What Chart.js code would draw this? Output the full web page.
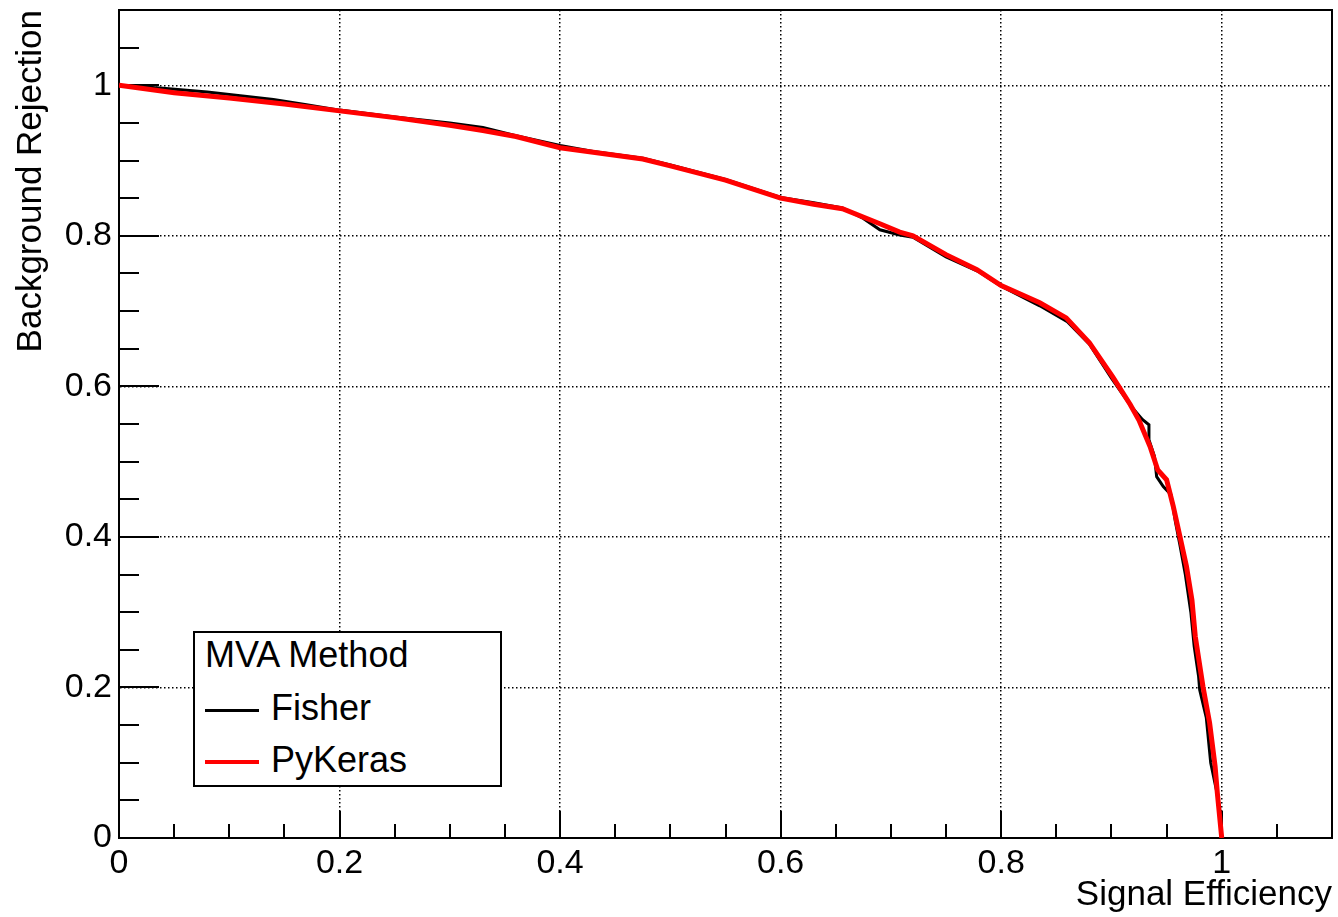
<!DOCTYPE html>
<html>
<head>
<meta charset="utf-8">
<script src="https://cdn.jsdelivr.net/npm/chart.js@4"></script>
<style>
  body { margin: 0; background: #fff; }
  #wrap { position: relative; width: 1338px; height: 917px; }
  #legend {
    position: absolute; left: 193px; top: 631px; width: 309px; height: 156px;
    box-sizing: border-box; border: 2px solid #000; background: #fff;
    font-family: 'Liberation Sans', Arial, sans-serif; font-size: 36px; color: #000;
  }
  #legend .row { position: absolute; left: 10px; height: 40px; line-height: 40px; white-space: nowrap; }
  #legend .swatch { display: inline-block; width: 54px; vertical-align: middle; margin-right: 12px; }
</style>
</head>
<body>
<div id="wrap">
  <canvas id="rocChart" width="1338" height="917"></canvas>
  <div id="legend"></div>
</div>
<script>
// ROC curves
var fisherEff = [0, 0.04, 0.08, 0.11, 0.14, 0.17, 0.2, 0.25, 0.3, 0.33, 0.36, 0.4, 0.43, 0.475, 0.5, 0.55, 0.6, 0.63, 0.656, 0.675, 0.69, 0.708, 0.72, 0.75, 0.78, 0.8, 0.835, 0.86, 0.88, 0.9, 0.917, 0.928, 0.934, 0.934, 0.939, 0.941, 0.947, 0.954, 0.958, 0.962, 0.967, 0.972, 0.975, 0.979, 0.98, 0.986, 0.99, 0.995, 0.998, 1.0];
var fisherRej = [1.0, 0.996, 0.991, 0.986, 0.981, 0.974, 0.967, 0.958, 0.95, 0.944, 0.933, 0.92, 0.912, 0.903, 0.894, 0.875, 0.851, 0.844, 0.837, 0.823, 0.808, 0.801, 0.798, 0.772, 0.752, 0.733, 0.707, 0.686, 0.656, 0.611, 0.575, 0.556, 0.549, 0.529, 0.507, 0.48, 0.467, 0.456, 0.42, 0.39, 0.35, 0.3, 0.255, 0.215, 0.197, 0.16, 0.1, 0.065, 0.04, 0];

var kerasEff = [0, 0.05, 0.1, 0.15, 0.2, 0.25, 0.3, 0.33, 0.36, 0.4, 0.44, 0.475, 0.5, 0.55, 0.6, 0.63, 0.656, 0.69, 0.708, 0.72, 0.75, 0.778, 0.8, 0.835, 0.859, 0.88, 0.901, 0.917, 0.925, 0.935, 0.942, 0.95, 0.956, 0.962, 0.968, 0.973, 0.976, 0.983, 0.989, 0.994, 0.996, 1.0];
var kerasRej = [1.0, 0.99, 0.983, 0.975, 0.966, 0.957, 0.947, 0.94, 0.932, 0.917, 0.909, 0.902, 0.893, 0.874, 0.85, 0.842, 0.836, 0.816, 0.805, 0.8, 0.775, 0.755, 0.734, 0.711, 0.691, 0.658, 0.613, 0.576, 0.555, 0.52, 0.489, 0.476, 0.441, 0.401, 0.361, 0.316, 0.268, 0.201, 0.153, 0.095, 0.06, 0];

// axes
var xTickValues = [0, 0.2, 0.4, 0.6, 0.8, 1.0];
var xTickLabels = ['0', '0.2', '0.4', '0.6', '0.8', '1'];
var yTickValues = [0, 0.2, 0.4, 0.6, 0.8, 1.0];
var yTickLabels = ['0', '0.2', '0.4', '0.6', '0.8', '1'];

var FONT = "'Liberation Sans', Arial, sans-serif";

function toPoints(xs, ys) {
  return xs.map(function (v, i) { return { x: v, y: ys[i] }; });
}

// fixed axis sizes, no extra padding for the end labels
function fixSize(w, h) {
  return function (s) {
    if (w) s.width = w;
    if (h) s.height = h;
    s.paddingTop = 0; s.paddingBottom = 0;
    s.paddingLeft = 0; s.paddingRight = 0;
  };
}

// ROOT style frame with ticks pointing inwards
var frameTicks = {
  id: 'frameTicks',
  beforeDatasetsDraw: function (chart) {
    var ctx = chart.ctx, a = chart.chartArea;
    var xs = chart.scales.x, ys = chart.scales.y;
    ctx.save();
    ctx.strokeStyle = '#000';
    ctx.lineWidth = 2;
    ctx.strokeRect(a.left, a.top, a.right - a.left, a.bottom - a.top);
    ctx.beginPath();
    for (var i = 0; i <= 22; i++) {
      var v = i * 0.05;
      var major = i % 4 === 0;
      var px = Math.round(xs.getPixelForValue(v));
      ctx.moveTo(px, a.bottom);
      ctx.lineTo(px, a.bottom - (major ? 27 : 14));
      var py = Math.round(ys.getPixelForValue(v));
      ctx.moveTo(a.left, py);
      ctx.lineTo(a.left + (major ? 40 : 20), py);
    }
    ctx.stroke();
    ctx.restore();
  }
};

var ctx = document.getElementById('rocChart');
var rocChart = new Chart(ctx, {
  type: 'line',
  data: {
    datasets: [{
      label: 'Fisher',
      data: toPoints(fisherEff, fisherRej),
      borderColor: '#000',
      borderWidth: 3,
      order: 1,
    }, {
      label: 'PyKeras',
      data: toPoints(kerasEff, kerasRej),
      borderColor: '#ff0000',
      borderWidth: 5,
      order: 0,
    }],
  },
  options: {
    responsive: false,
    animation: false,
    layout: { padding: { top: 10, right: 6, left: 0, bottom: 0 } },
    elements: { point: { radius: 0 }, line: { tension: 0, fill: false } },
    plugins: { legend: { display: false }, tooltip: { enabled: false } },
    scales: {
      x: {
        type: 'linear',
        min: 0,
        max: 1.1,
        afterFit: fixSize(0, 79),
        afterBuildTicks: function (s) { s.ticks = xTickValues.map(function (v) { return { value: v }; }); },
        ticks: {
          callback: function (v, i) { return xTickLabels[i]; },
          font: { family: FONT, size: 34 },
          color: '#000',
          padding: 5,
          maxRotation: 0,
          autoSkip: false,
        },
        grid: { color: '#000', lineWidth: 1.5, drawTicks: false },
        border: { display: true, color: '#000', width: 2, dash: [1.5, 2.5] },
        title: {
          display: true, text: 'Signal Efficiency', align: 'end', color: '#000',
          font: { family: FONT, size: 35 }, padding: { top: 0, bottom: 1 },
        },
      },
      y: {
        type: 'linear',
        min: 0,
        max: 1.1,
        afterFit: fixSize(119, 0),
        afterBuildTicks: function (s) { s.ticks = yTickValues.map(function (v) { return { value: v }; }); },
        ticks: {
          callback: function (v, i) { return yTickLabels[i]; },
          font: { family: FONT, size: 34 },
          color: '#000',
          padding: 7,
          autoSkip: false,
        },
        grid: { color: '#000', lineWidth: 1.5, drawTicks: false },
        border: { display: true, color: '#000', width: 2, dash: [1.5, 2.5] },
        title: {
          display: true, text: 'Background Rejection', align: 'end', color: '#000',
          font: { family: FONT, size: 35 }, padding: { top: 10, bottom: 0 },
        },
      },
    },
  },
  plugins: [frameTicks],
});

// legend box, built from the datasets
var legend = document.getElementById('legend');
var head = document.createElement('div');
head.className = 'row';
head.style.top = '2px';
head.textContent = 'MVA Method';
legend.appendChild(head);
rocChart.data.datasets.forEach(function (ds, i) {
  var row = document.createElement('div');
  row.className = 'row';
  row.style.top = (55 + i * 52) + 'px';
  var sw = document.createElement('span');
  sw.className = 'swatch';
  sw.style.borderTop = Math.min(ds.borderWidth, 4) + 'px solid ' + ds.borderColor;
  row.appendChild(sw);
  row.appendChild(document.createTextNode(ds.label));
  legend.appendChild(row);
});
</script>
</body>
</html>
